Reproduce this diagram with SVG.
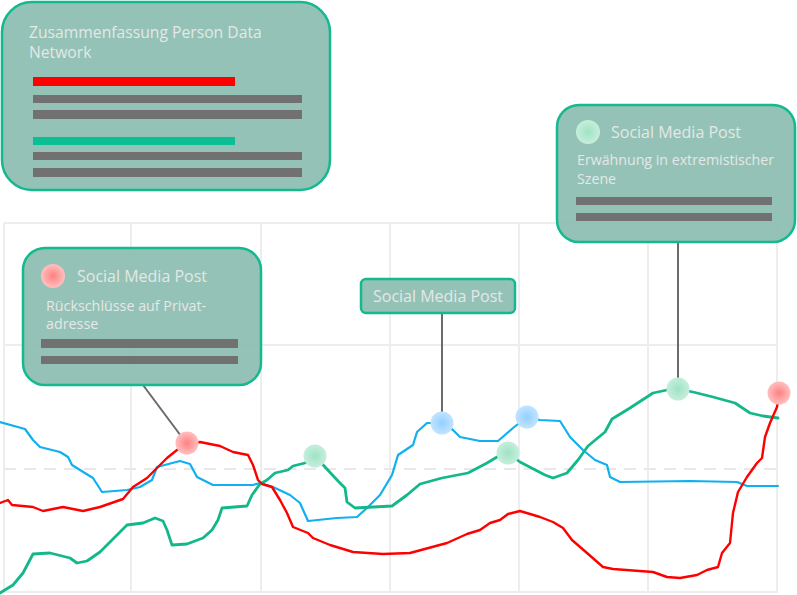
<svg xmlns="http://www.w3.org/2000/svg" width="797" height="595" viewBox="0 0 797 595">
<style>
.grid{stroke:#ededed;stroke-width:2;fill:none}
.dash{stroke:#e8e8e8;stroke-width:2;stroke-dasharray:12 8;fill:none}
.box{fill:#8fbfb2;fill-opacity:0.95;stroke:#14b990;stroke-width:2.5}
.bar{fill:#717171}
.t{font-family:"Open Sans","Noto Sans","Liberation Sans",sans-serif;fill:#e4e8e6}
.conn{stroke:#6a6a6a;stroke-width:2;fill:none}
.line{fill:none;stroke-linejoin:round;stroke-linecap:round}
</style>
<defs>
<radialGradient id="gr"><stop offset="0" stop-color="#ff8080"/><stop offset="1" stop-color="#ffc0c0"/></radialGradient>
<radialGradient id="gg"><stop offset="0" stop-color="#9ee3c4"/><stop offset="1" stop-color="#c6eedc"/></radialGradient>
<radialGradient id="gb"><stop offset="0" stop-color="#94d0ff"/><stop offset="1" stop-color="#c2e4ff"/></radialGradient>
</defs>
<g id="grid">
<path class="grid" d="M4 223H778M4 345H778M4 592H778M4 223V592M131 223V592M261 223V592M390 223V592M519 223V592M648 223V592M777 223V592"/>
<path class="dash" d="M4 469H778"/>
</g>
<g id="series">
<polyline class="line" stroke="#10b0f0" stroke-width="2.2" points="0,422 25,429 33,440 40,447 60,452 68,457 72,465 80,470 93,478 102,492 127,490 140,487 152,480 157,467 180,461 190,464 197,477 213,485 253,485 260,483 273,487 290,495 300,503 308,521 337,518 357,517 367,508 380,495 392,475 398,455 413,445 417,432 427,423 442,423 453,430 460,437 480,441 498,441 513,428 527,417 540,420 560,421 570,437 583,450 595,460 607,465 610,477 620,482 690,481 737,482 747,486 778,486"/>
<polyline class="line" stroke="#13b88a" stroke-width="2.8" points="0,593 13,585 23,573 33,554 50,553 70,558 77,563 87,561 100,552 115,537 127,525 143,523 155,518 163,521 167,530 172,545 187,544 203,538 212,530 218,520 222,508 247,506 252,495 260,484 267,480 275,473 288,470 293,466 305,463 315,456 325,467 338,481 345,488 347,502 355,508 392,506 407,495 420,484 442,478 468,473 487,463 497,457 508,453 520,462 545,475 553,478 567,473 578,460 588,446 605,432 612,419 630,408 653,393 667,390 678,389 693,392 713,397 735,403 750,413 763,416 778,418"/>
<polyline class="line" stroke="#ff0000" stroke-width="2.4" points="0,503 8,500 12,505 33,507 43,511 63,507 83,511 100,507 123,499 133,487 147,478 155,470 167,458 177,450 187,443 200,442 220,446 233,452 248,455 253,465 258,480 262,484 272,487 280,500 287,513 293,527 308,533 313,538 330,545 353,552 383,554 410,553 447,543 467,534 480,530 490,523 500,520 508,514 520,511 540,517 553,522 563,528 572,540 587,553 603,567 613,569 653,572 667,577 680,578 697,575 707,570 718,567 722,553 730,543 733,513 738,492 747,477 757,463 762,458 765,437 770,423 777,407 779,393"/>
</g>
<g id="connectors">
<path class="conn" d="M143 385L181 436"/>
<path class="conn" d="M442 313V412"/>
<path class="conn" d="M678 242V378"/>
</g>
<g id="dots">
<circle cx="187" cy="443" r="11.5" fill="url(#gr)"/>
<circle cx="315" cy="456" r="11.5" fill="url(#gg)"/>
<circle cx="442" cy="423" r="11.5" fill="url(#gb)"/>
<circle cx="527" cy="417" r="11.5" fill="url(#gb)"/>
<circle cx="508" cy="453" r="11.5" fill="url(#gg)"/>
<circle cx="678" cy="389" r="11.5" fill="url(#gg)"/>
<circle cx="779" cy="393" r="11.5" fill="url(#gr)"/>
</g>
<g id="summary">
<rect class="box" x="2" y="2" width="328" height="188" rx="30"/>
<text class="t" x="29" y="38" font-size="15.7">Zusammenfassung Person Data</text>
<text class="t" x="29" y="58" font-size="15.7">Network</text>
<rect x="33" y="77" width="202" height="9" fill="#ff0000"/>
<rect class="bar" x="33" y="95" width="269" height="8"/>
<rect class="bar" x="33" y="110" width="269" height="9"/>
<rect x="33" y="137" width="202" height="8" fill="#0bbf94"/>
<rect class="bar" x="33" y="152" width="269" height="8"/>
<rect class="bar" x="33" y="168" width="269" height="9"/>
</g>
<g id="post-left">
<rect class="box" x="23" y="248" width="238" height="137" rx="22"/>
<circle cx="53" cy="276" r="12" fill="url(#gr)"/>
<text class="t" x="77" y="282" font-size="16">Social Media Post</text>
<text class="t" x="46" y="311" font-size="14.3">Rückschlüsse auf Privat-</text>
<text class="t" x="46" y="329" font-size="14.3">adresse</text>
<rect class="bar" x="41" y="339" width="197" height="9"/>
<rect class="bar" x="41" y="356" width="197" height="8"/>
</g>
<g id="post-middle">
<rect class="box" x="361" y="279" width="154" height="34" rx="5"/>
<text class="t" x="438" y="302" font-size="16" text-anchor="middle">Social Media Post</text>
</g>
<g id="post-right">
<rect class="box" x="557" y="105" width="238" height="137" rx="22"/>
<circle cx="588" cy="132" r="12" fill="url(#gg)"/>
<text class="t" x="611" y="138" font-size="16">Social Media Post</text>
<text class="t" x="577" y="165" font-size="14.2">Erwähnung in extremistischer</text>
<text class="t" x="577" y="184" font-size="14.2">Szene</text>
<rect class="bar" x="576" y="197" width="196" height="8"/>
<rect class="bar" x="576" y="213" width="196" height="8"/>
</g>
</svg>
